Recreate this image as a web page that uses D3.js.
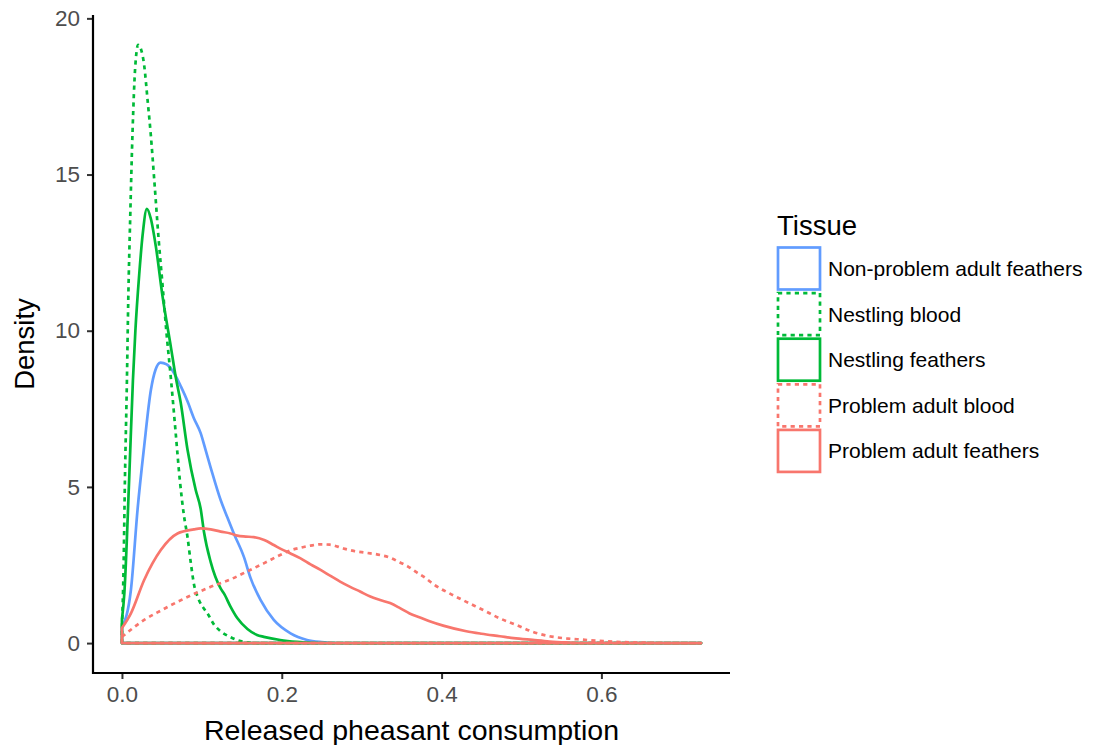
<!DOCTYPE html>
<html>
<head>
<meta charset="utf-8">
<script src="https://cdn.jsdelivr.net/npm/d3@7/dist/d3.min.js"></script>
<style>
  html, body { margin: 0; padding: 0; background: #fff; }
  svg { display: block; font-family: "Liberation Sans", Arial, Helvetica, sans-serif; }
</style>
</head>
<body>
<svg id="chart" width="1113" height="745"></svg>
<script>
// Kernel density estimates of released pheasant consumption, by tissue: [x, density]
const nonProblemAdultFeathers = [
  [0, 0.5], [0.0112, 1.7], [0.0196, 4.3], [0.0278, 6.3], [0.0362, 8.1], [0.042, 8.75],
  [0.0482, 8.98], [0.056, 8.92], [0.0653, 8.64], [0.074, 8.2], [0.082, 7.74], [0.09, 7.2],
  [0.0985, 6.72], [0.105, 6.15], [0.111, 5.62], [0.1235, 4.58], [0.132, 4.02], [0.14, 3.51],
  [0.1526, 2.76], [0.161, 2.08], [0.1734, 1.38], [0.19, 0.74], [0.211, 0.31], [0.2316, 0.1],
  [0.25, 0.03], [0.27, 0], [0.7247, 0]
];
const nestlingBlood = [
  [0, 0.5], [0.002, 2.4], [0.0037, 5.2], [0.0062, 8.4], [0.0079, 11.0], [0.0103, 13.6],
  [0.0133, 16.4], [0.0165, 18.4], [0.0203, 19.15], [0.024, 19.0], [0.0278, 18.5], [0.032, 17.4],
  [0.036, 16.3], [0.0405, 14.8], [0.046, 12.9], [0.051, 11.4], [0.0555, 10.0], [0.0615, 8.4],
  [0.067, 6.8], [0.0725, 5.2], [0.0775, 4.1], [0.082, 3.4], [0.086, 2.6], [0.09, 1.9],
  [0.096, 1.4], [0.1027, 1.1], [0.107, 0.95], [0.115, 0.6], [0.1235, 0.38], [0.135, 0.2],
  [0.1526, 0.04], [0.17, 0], [0.7247, 0]
];
const nestlingFeathers = [
  [0, 0.75], [0.003, 1.6], [0.0091, 5.3], [0.0137, 8.4], [0.0168, 10.0], [0.0216, 11.8],
  [0.026, 13.1], [0.0312, 13.9], [0.036, 13.6], [0.0424, 12.7], [0.0508, 11.1], [0.0611, 9.5],
  [0.0674, 8.5], [0.0735, 7.7], [0.082, 6.2], [0.0923, 4.9], [0.0985, 4.3], [0.1027, 3.55],
  [0.111, 2.6], [0.1235, 1.75], [0.1276, 1.59], [0.136, 1.16], [0.1443, 0.8], [0.157, 0.45],
  [0.169, 0.26], [0.1775, 0.2], [0.198, 0.1], [0.219, 0.04], [0.25, 0], [0.7247, 0]
];
const problemAdultBlood = [
  [0, 0.2], [0.0278, 0.74], [0.0486, 1.04], [0.0695, 1.32], [0.09, 1.57], [0.111, 1.8],
  [0.136, 2.04], [0.157, 2.3], [0.178, 2.56], [0.198, 2.82], [0.211, 2.97], [0.223, 3.05],
  [0.236, 3.12], [0.248, 3.16], [0.26, 3.15], [0.277, 3.03], [0.29, 2.95], [0.306, 2.89],
  [0.323, 2.82], [0.335, 2.74], [0.348, 2.58], [0.358, 2.45], [0.369, 2.26], [0.38, 2.08],
  [0.39, 1.88], [0.41, 1.59], [0.431, 1.32], [0.452, 1.06], [0.473, 0.79], [0.4936, 0.58],
  [0.514, 0.36], [0.535, 0.22], [0.556, 0.15], [0.577, 0.11], [0.597, 0.07], [0.618, 0.04],
  [0.64, 0.02], [0.66, 0.01], [0.69, 0], [0.7247, 0]
];
const problemAdultFeathers = [
  [0, 0.48], [0.0112, 0.95], [0.0278, 2.02], [0.0486, 2.98], [0.0695, 3.51], [0.09, 3.64],
  [0.0985, 3.67], [0.111, 3.64], [0.1235, 3.57], [0.136, 3.51], [0.1443, 3.44], [0.155, 3.41],
  [0.165, 3.39], [0.178, 3.3], [0.19, 3.14], [0.2, 3.0], [0.211, 2.87], [0.223, 2.72],
  [0.236, 2.52], [0.248, 2.35], [0.261, 2.15], [0.273, 1.97], [0.2856, 1.8], [0.298, 1.65],
  [0.31, 1.5], [0.323, 1.38], [0.3355, 1.28], [0.348, 1.12], [0.36, 0.95], [0.373, 0.82],
  [0.385, 0.7], [0.402, 0.56], [0.431, 0.38], [0.45, 0.3], [0.473, 0.22], [0.49, 0.16],
  [0.514, 0.1], [0.535, 0.05], [0.556, 0.02], [0.58, 0], [0.7247, 0]
];

const tissueNames = [
  "Non-problem adult feathers", "Nestling blood", "Nestling feathers",
  "Problem adult blood", "Problem adult feathers"
];
const tissueValues = [
  nonProblemAdultFeathers, nestlingBlood, nestlingFeathers, problemAdultBlood, problemAdultFeathers
];
const tissueColors = ["#619CFF", "#00BA38", "#00BA38", "#F8766D", "#F8766D"];
const tissueDotted = [false, true, false, true, false];

const xTicks = [0, 0.2, 0.4, 0.6];
const yTicks = [0, 5, 10, 15, 20];

const svg = d3.select("#chart");
svg.append("rect").attr("width", 1113).attr("height", 745).attr("fill", "#fff");

const panel = { left: 93, right: 730, top: 15, bottom: 673 };

const allPts = tissueValues.flat();
const xMin = d3.min(allPts, d => d[0]), xMax = d3.max(allPts, d => d[0]);
const yMax = d3.max(allPts, d => d[1]);
const xPad = (xMax - xMin) * 0.05, yPad = yMax * 0.05;

const x = d3.scaleLinear().domain([xMin - xPad, xMax + xPad]).range([panel.left, panel.right]);
const y = d3.scaleLinear().domain([-yPad, yMax + yPad]).range([panel.bottom, panel.top]);

const dash = "4.2,4.2";
const lineWidth = 2.7;

// density outlines (closed polygons down to the baseline)
const area = d3.area()
  .x(d => x(d[0]))
  .y0(y(0))
  .y1(d => y(d[1]))
  .curve(d3.curveMonotoneX);

svg.append("g").selectAll("path")
  .data(tissueValues)
  .join("path")
  .attr("d", area)
  .attr("fill", "none")
  .attr("stroke", (d, i) => tissueColors[i])
  .attr("stroke-width", lineWidth)
  .attr("stroke-linejoin", "round")
  .attr("stroke-dasharray", (d, i) => tissueDotted[i] ? dash : null);

// axes
const tickColor = "#333333", labelColor = "#4D4D4D";

const xAxis = svg.append("g")
  .attr("transform", `translate(0,${panel.bottom})`)
  .call(d3.axisBottom(x).tickValues(xTicks).tickFormat(d3.format(".1f")).tickSizeOuter(0).tickSize(6).tickPadding(7));
xAxis.select(".domain").remove();
xAxis.selectAll(".tick line").attr("stroke", tickColor).attr("stroke-width", 2);
xAxis.selectAll(".tick text")
  .attr("fill", labelColor).attr("font-size", 22.5)
  .attr("font-family", "'Liberation Sans', Arial, sans-serif");

const yAxis = svg.append("g")
  .attr("transform", `translate(${panel.left},0)`)
  .call(d3.axisLeft(y).tickValues(yTicks).tickFormat(d3.format("d")).tickSizeOuter(0).tickSize(6).tickPadding(7));
yAxis.select(".domain").remove();
yAxis.selectAll(".tick line").attr("stroke", tickColor).attr("stroke-width", 2);
yAxis.selectAll(".tick text")
  .attr("fill", labelColor).attr("font-size", 22.5)
  .attr("font-family", "'Liberation Sans', Arial, sans-serif");

// axis lines
svg.append("line")
  .attr("x1", panel.left - 1).attr("x2", panel.right)
  .attr("y1", panel.bottom).attr("y2", panel.bottom)
  .attr("stroke", "#000").attr("stroke-width", 2.2);
svg.append("line")
  .attr("x1", panel.left).attr("x2", panel.left)
  .attr("y1", panel.top).attr("y2", panel.bottom + 1)
  .attr("stroke", "#000").attr("stroke-width", 2.2);

// axis titles
svg.append("text")
  .attr("x", (panel.left + panel.right) / 2).attr("y", 740)
  .attr("text-anchor", "middle").attr("font-size", 28.5).attr("fill", "#000")
  .text("Released pheasant consumption");
svg.append("text")
  .attr("transform", `translate(34,${(panel.top + panel.bottom) / 2}) rotate(-90)`)
  .attr("text-anchor", "middle").attr("font-size", 27.5).attr("fill", "#000")
  .text("Density");

// legend
const legend = svg.append("g").attr("transform", "translate(777,0)");
legend.append("text")
  .attr("x", 0).attr("y", 235)
  .attr("font-size", 27.5).attr("fill", "#000")
  .text("Tissue");

const keyTop = 247.5, keyStep = 45.6, keySize = 42;
const rows = legend.selectAll("g.key")
  .data(tissueNames)
  .join("g")
  .attr("class", "key")
  .attr("transform", (d, i) => `translate(0,${keyTop + i * keyStep})`);
rows.append("rect")
  .attr("x", 1).attr("y", 0)
  .attr("width", keySize).attr("height", keySize)
  .attr("fill", "none")
  .attr("stroke", (d, i) => tissueColors[i])
  .attr("stroke-width", lineWidth)
  .attr("stroke-dasharray", (d, i) => tissueDotted[i] ? dash : null);
rows.append("text")
  .attr("x", 51).attr("y", keySize / 2 + 7.5)
  .attr("font-size", 21).attr("fill", "#000")
  .text(d => d);
</script>
</body>
</html>
